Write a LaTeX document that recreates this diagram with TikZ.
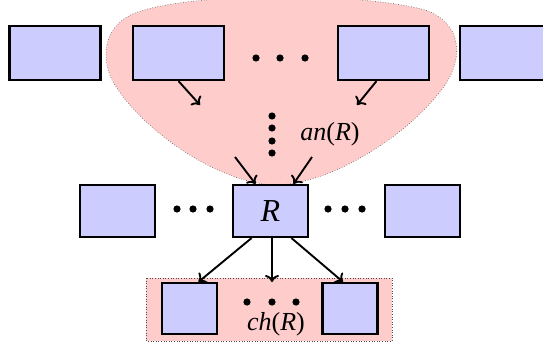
\documentclass[tikz,border=0pt]{standalone}
\usepackage{fontspec}
\setmainfont{Liberation Serif}
\usetikzlibrary{positioning,arrows.meta}
\definecolor{anpink}{RGB}{255,204,204}
\definecolor{boxblue}{RGB}{204,204,255}
\begin{document}
\begin{tikzpicture}[x=1pt,y=-1pt,
    blk/.style={draw=black, line width=2.2pt, fill=boxblue, inner sep=0pt},
    wide/.style={blk, minimum width=91pt, minimum height=54pt},
    mid/.style={blk, minimum width=75pt, minimum height=52pt},
    small/.style={blk, minimum width=55pt, minimum height=51pt},
    edge/.style={-{To[length=7pt,width=14pt]}, line width=1.9pt},
    region/.style={fill=anpink, draw=black!70, dotted, line width=0.6pt},
    lbl/.style={font=\fontsize{26}{28}\selectfont}]
            \clip (0,0) rectangle (543,345);
            \useasboundingbox (0,0) rectangle (543,345);
            % ---------- an(R) ----------
            \draw[region]
                (275,185) .. controls (220,184) and (140,130) .. (112,80)
                .. controls (100,55) and (105,25) .. (135,13)
                .. controls (190,-8) and (360,-8) .. (425,10)
                .. controls (460,22) and (465,55) .. (445,85)
                .. controls (410,135) and (330,185) .. (275,185) -- cycle;
            % ---------- ch(R) ----------
            \draw[region] (146,278) rectangle (392,341);
            % ---------- top row ----------
            \node[wide] (t1) at (55,53) {};
            \node[wide] (t2) at (178.5,53) {};
            \node[wide] (t3) at (383.5,53) {};
            \node[wide] (t4) at (505.5,53) {};
            \foreach \x in {256,280,305}
                \fill (\x,58) circle (3.6pt);
            % ---------- middle ----------
            \node[mid] (m1) at (117.5,211) {};
            \node[mid, font=\fontsize{32}{34}\selectfont\itshape] (R) at (270.5,211) {R};
            \node[mid] (m2) at (422.5,211) {};
            \foreach \x in {177,193,210,328,345,362}
                \fill (\x,209) circle (3.6pt);
            \foreach \y in {116,128,141,153}
                \fill (272,\y) circle (3.6pt);
            \node[lbl] (anlbl) at (330,134) {\textit{an}(\textit{R})};
            % ---------- children ----------
            \node[small] (c1) at (189.5,308.5) {};
            \node[small] (c2) at (350,308.5) {};
            \foreach \x in {247,272,296}
                \fill (\x,302) circle (3.6pt);
            \node[lbl] (chlbl) at (276,324) {\textit{ch}(\textit{R})};
            % ---------- edges ----------
            \coordinate (a1) at (200,105);
            \coordinate (a2) at (357,105);
            \coordinate (b1) at (235,157);
            \coordinate (b2) at (312,157);
            \coordinate (cm) at (272,282);
            \draw[edge] (t2.south) -- (a1);
            \draw[edge] ([xshift=-7pt]t3.south) -- (a2);
            \draw[edge] (b1) -- ([xshift=-15pt]R.north);
            \draw[edge] (b2) -- ([xshift=23pt]R.north);
            \draw[edge] ([xshift=-19pt]R.south) -- ([xshift=9pt]c1.north);
            \draw[edge] ([xshift=1.5pt]R.south) -- (cm);
            \draw[edge] ([xshift=21pt]R.south) -- ([xshift=-7pt]c2.north);
\end{tikzpicture}
\end{document}
